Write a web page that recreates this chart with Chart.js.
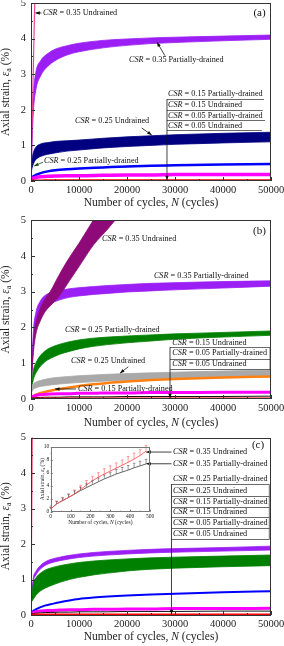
<!DOCTYPE html>
<html lang="en">
<head>
<meta charset="UTF-8" />
<title>Axial strain vs number of cycles</title>
<script src="https://cdn.jsdelivr.net/npm/chart.js"></script>
<style>
  html, body { margin: 0; padding: 0; background: #fff; }
  .wrap { position: relative; width: 284px; height: 646px; overflow: hidden; }
  canvas { position: absolute; left: 0; }
  #panelA { top: 0; }
  #panelB { top: 212px; }
  #panelC { top: 428px; }
  #inset { left: 36px; top: 443px; }
</style>
</head>
<body>
<div class="wrap">
  <canvas id="panelA" width="284" height="214"></canvas>
  <canvas id="panelB" width="284" height="218"></canvas>
  <canvas id="panelC" width="284" height="218"></canvas>
  <canvas id="inset" width="118" height="85"></canvas>
</div>
<script>
// ---- panel (a) ----
const cyclesA = [0, 200, 500, 1000, 2000, 3500, 5000, 7500, 10000, 15000, 20000, 25000, 30000, 40000, 50000];
const aVioletHi = [0, 1.6, 2.45, 3.05, 3.38, 3.58, 3.7, 3.8, 3.87, 3.95, 3.99, 4.02, 4.04, 4.07, 4.1];
const aVioletLo = [0, 1.0, 1.95, 2.55, 2.95, 3.22, 3.38, 3.54, 3.63, 3.74, 3.81, 3.86, 3.89, 3.94, 3.98];
const aNavyHi = [0.2, 0.6, 0.8, 0.95, 1.04, 1.08, 1.11, 1.13, 1.15, 1.2, 1.24, 1.27, 1.3, 1.34, 1.37];
const aNavyLo = [0.2, 0.35, 0.48, 0.6, 0.69, 0.75, 0.79, 0.84, 0.87, 0.93, 0.97, 1.0, 1.03, 1.07, 1.1];
const aBlue = [0.05, 0.1, 0.13, 0.17, 0.22, 0.27, 0.3, 0.33, 0.35, 0.38, 0.41, 0.43, 0.44, 0.46, 0.48];
const aMagenta = [0.03, 0.06, 0.08, 0.1, 0.12, 0.13, 0.14, 0.15, 0.15, 0.16, 0.17, 0.17, 0.18, 0.18, 0.18];
const aRed = [0.01, 0.02, 0.02, 0.02, 0.02, 0.03, 0.03, 0.03, 0.03, 0.03, 0.03, 0.03, 0.03, 0.03, 0.03];
const a35uCycles = [0, 200, 400, 600, 800, 1000];
const a35u = [0, 1.3, 2.6, 3.9, 5.1, 6.3];

// ---- panel (b) ----
const cyclesB = [0, 500, 1000, 2000, 3000, 4000, 6000, 8000, 10000, 13000, 16000, 20000, 25000, 30000, 40000, 50000];
const bPurpleHi = [0.3, 1.6, 2.1, 2.55, 2.8, 3.0, 3.5, 3.95, 4.35, 5.0, 5.6, 6.4, 7.4, 8.4, 10.3, 12.0];
const bPurpleLo = [0.3, 1.3, 1.8, 2.2, 2.45, 2.6, 2.9, 3.3, 3.7, 4.3, 4.75, 5.4, 6.2, 7.0, 8.6, 10.2];
const bVioletHi = [0.3, 1.9, 2.4, 2.75, 2.9, 2.96, 3.03, 3.08, 3.11, 3.14, 3.17, 3.2, 3.23, 3.25, 3.28, 3.3];
const bVioletLo = [0.3, 1.5, 2.0, 2.4, 2.58, 2.66, 2.77, 2.84, 2.88, 2.92, 2.95, 2.99, 3.02, 3.05, 3.1, 3.15];
const bGreenHi = [0.25, 0.8, 1.0, 1.22, 1.35, 1.43, 1.53, 1.6, 1.65, 1.7, 1.73, 1.76, 1.79, 1.82, 1.86, 1.9];
const bGreenLo = [0.25, 0.55, 0.72, 0.92, 1.05, 1.13, 1.25, 1.33, 1.4, 1.47, 1.52, 1.57, 1.62, 1.67, 1.73, 1.78];
const bGrayHi = [0.25, 0.42, 0.47, 0.52, 0.55, 0.58, 0.61, 0.63, 0.65, 0.67, 0.69, 0.71, 0.73, 0.75, 0.78, 0.81];
const bGrayLo = [0.15, 0.27, 0.31, 0.35, 0.37, 0.39, 0.42, 0.44, 0.46, 0.48, 0.5, 0.52, 0.55, 0.57, 0.6, 0.63];
const bOrange = [0.05, 0.08, 0.12, 0.17, 0.2, 0.23, 0.28, 0.32, 0.36, 0.41, 0.45, 0.49, 0.53, 0.56, 0.6, 0.63];
const bMagenta = [0.04, 0.08, 0.1, 0.12, 0.13, 0.14, 0.15, 0.15, 0.16, 0.16, 0.17, 0.17, 0.18, 0.18, 0.19, 0.19];
const bBlack = [0.02, 0.03, 0.04, 0.04, 0.05, 0.05, 0.05, 0.06, 0.06, 0.06, 0.06, 0.07, 0.07, 0.07, 0.07, 0.08];
const bRed = [0.01, 0.02, 0.02, 0.02, 0.02, 0.02, 0.02, 0.02, 0.02, 0.02, 0.02, 0.02, 0.02, 0.02, 0.02, 0.02];

// ---- panel (c) ----
const cyclesC = [0, 500, 1000, 2000, 3000, 4000, 6000, 8000, 10000, 13000, 16000, 20000, 25000, 30000, 40000, 50000];
const cVioletHi = [0.3, 1.05, 1.22, 1.4, 1.5, 1.56, 1.63, 1.68, 1.72, 1.76, 1.79, 1.82, 1.85, 1.87, 1.9, 1.94];
const cVioletLo = [0.3, 0.95, 1.12, 1.3, 1.4, 1.46, 1.53, 1.58, 1.62, 1.66, 1.69, 1.72, 1.75, 1.77, 1.8, 1.83];
const cGreenHi = [0.35, 0.9, 1.04, 1.18, 1.27, 1.32, 1.39, 1.44, 1.48, 1.52, 1.55, 1.58, 1.61, 1.63, 1.66, 1.69];
const cGreenLo = [0.35, 0.45, 0.55, 0.68, 0.76, 0.82, 0.92, 1.0, 1.06, 1.13, 1.18, 1.24, 1.29, 1.32, 1.36, 1.39];
const cBlue = [0.05, 0.12, 0.16, 0.22, 0.27, 0.3, 0.36, 0.41, 0.45, 0.49, 0.52, 0.55, 0.58, 0.6, 0.64, 0.67];
const cMagenta = [0.03, 0.07, 0.09, 0.11, 0.12, 0.13, 0.14, 0.15, 0.15, 0.16, 0.16, 0.17, 0.17, 0.18, 0.18, 0.19];
const cBlack = [0.02, 0.04, 0.05, 0.06, 0.07, 0.07, 0.08, 0.08, 0.09, 0.09, 0.09, 0.1, 0.1, 0.1, 0.11, 0.11];
const cRed = [0.01, 0.02, 0.02, 0.02, 0.02, 0.02, 0.02, 0.02, 0.02, 0.02, 0.02, 0.02, 0.02, 0.02, 0.02, 0.02];
const c35uCycles = [0, 100, 250, 400];
const c35u = [0, 2.0, 5.0, 8.0];

// ---- inset of (c): first 500 cycles ----
const insetCycles = [0, 30, 60, 90, 120, 150, 180, 210, 240, 270, 300, 330, 360, 390, 420, 450, 480];
const insetUndrained = [0.4, 1.2, 1.7, 2.2, 2.75, 3.4, 4.1, 4.75, 5.3, 5.8, 6.25, 6.7, 7.15, 7.6, 8.1, 8.65, 9.3];
const insetUndrainedErr = [0.3, 0.4, 0.5, 0.5, 0.6, 0.6, 0.7, 0.7, 0.7, 0.8, 0.8, 0.8, 0.8, 0.9, 0.9, 0.9, 0.9];
const insetDrained = [0.4, 1.2, 1.7, 2.2, 2.7, 3.25, 3.7, 4.15, 4.6, 5.05, 5.4, 5.8, 6.1, 6.4, 6.75, 7.05, 7.35];
const insetDrainedErr = [0.3, 0.4, 0.4, 0.5, 0.5, 0.5, 0.6, 0.6, 0.6, 0.6, 0.6, 0.7, 0.7, 0.7, 0.7, 0.7, 0.7];

const xTicksMain = [0, 10000, 20000, 30000, 40000, 50000];
const yTicksMain = [0, 1, 2, 3, 4, 5];

const FONT = '"Liberation Serif", "Times New Roman", serif';
const INK = '#222';
const NOTE_SIZE = 8.2;

const pts = (xs, ys) => xs.map((x, i) => ({ x, y: ys[i] }));

function line(xs, ys, color, w) {
  return { data: pts(xs, ys), borderColor: color, borderWidth: w, pointRadius: 0,
    fill: false, cubicInterpolationMode: 'monotone' };
}

function band(xs, lo, hi, color) {
  return [
    { data: pts(xs, hi), borderColor: color, borderWidth: 0.8, backgroundColor: color,
      pointRadius: 0, fill: '+1', cubicInterpolationMode: 'monotone' },
    { data: pts(xs, lo), borderColor: color, borderWidth: 0.8, pointRadius: 0,
      fill: false, cubicInterpolationMode: 'monotone' },
  ];
}

// text made of pieces, some italic or subscript
function rich(ctx, parts, x, y, size, align) {
  const fontOf = p => (p.i ? 'italic ' : '') + (p.sub ? size * 0.7 : size) + 'px ' + FONT;
  let total = 0;
  for (const p of parts) { ctx.font = fontOf(p); total += ctx.measureText(p.t).width; }
  let cx = align === 'center' ? x - total / 2 : x;
  ctx.textAlign = 'left';
  ctx.textBaseline = 'middle';
  for (const p of parts) {
    ctx.font = fontOf(p);
    ctx.fillText(p.t, cx, y + (p.sub ? size * 0.28 : 0));
    cx += ctx.measureText(p.t).width;
  }
}

function arrow(ctx, x1, y1, x2, y2, color) {
  ctx.strokeStyle = color;
  ctx.fillStyle = color;
  ctx.lineWidth = 0.8;
  ctx.beginPath(); ctx.moveTo(x1, y1); ctx.lineTo(x2, y2); ctx.stroke();
  const a = Math.atan2(y2 - y1, x2 - x1), L = 4.5, W = 1.7;
  ctx.beginPath();
  ctx.moveTo(x2, y2);
  ctx.lineTo(x2 - L * Math.cos(a) + W * Math.sin(a), y2 - L * Math.sin(a) - W * Math.cos(a));
  ctx.lineTo(x2 - L * Math.cos(a) - W * Math.sin(a), y2 - L * Math.sin(a) + W * Math.cos(a));
  ctx.closePath();
  ctx.fill();
}

const X_TITLE = [{ t: 'Number of cycles, ' }, { t: 'N', i: 1 }, { t: ' (cycles)' }];
const Y_TITLE = [{ t: 'Axial strain, ' }, { t: 'ε', i: 1 }, { t: 'a', sub: 1 }, { t: ' (%)' }];

// frame, inward ticks, axis titles and annotations
function makeDecor(cfg) {
  return {
    id: 'decor',
    afterDatasetsDraw(chart) {
      const { ctx, chartArea: ca } = chart;
      const X = chart.scales.x, Y = chart.scales.y;
      const px = n => X.getPixelForValue(n), py = v => Y.getPixelForValue(v);
      ctx.save();

      if (cfg.errors) {
        chart.data.datasets.forEach((ds, i) => {
          const err = cfg.errors[i];
          if (!err) return;
          ctx.strokeStyle = ds.borderColor;
          ctx.lineWidth = 0.6;
          ds.data.forEach((p, j) => {
            const x = px(p.x), y0 = py(p.y), y1 = py(p.y + err[j]);
            ctx.beginPath();
            ctx.moveTo(x, y0); ctx.lineTo(x, y1);
            ctx.moveTo(x - 1.3, y1); ctx.lineTo(x + 1.3, y1);
            ctx.stroke();
          });
        });
      }

      ctx.strokeStyle = cfg.frame;
      ctx.lineWidth = 1;
      ctx.strokeRect(Math.round(ca.left) + 0.5, Math.round(ca.top) + 0.5,
        Math.round(ca.width) - 1, Math.round(ca.height) - 1);

      // inward ticks
      ctx.beginPath();
      for (let v = X.min; v <= X.max + 1e-9; v += cfg.xMinor) {
        const major = Math.abs(v / cfg.xMajor - Math.round(v / cfg.xMajor)) < 1e-6;
        const x = Math.round(px(v)) + 0.5;
        ctx.moveTo(x, ca.bottom); ctx.lineTo(x, ca.bottom - (major ? cfg.tick : cfg.tick / 2));
      }
      for (let v = Y.min; v <= Y.max + 1e-9; v += cfg.yMinor) {
        const major = Math.abs(v / cfg.yMajor - Math.round(v / cfg.yMajor)) < 1e-6;
        const y = Math.round(py(v)) + 0.5;
        ctx.moveTo(ca.left, y); ctx.lineTo(ca.left + (major ? cfg.tick : cfg.tick / 2), y);
      }
      ctx.stroke();

      ctx.fillStyle = INK;
      rich(ctx, X_TITLE, (ca.left + ca.right) / 2, cfg.xTitleY, cfg.titleSize, 'center');
      ctx.save();
      ctx.translate(cfg.yTitleX, (ca.top + ca.bottom) / 2);
      ctx.rotate(-Math.PI / 2);
      rich(ctx, Y_TITLE, 0, 0, cfg.titleSize, 'center');
      ctx.restore();

      for (const n of cfg.notes || []) {
        if (n.csr) {
          ctx.fillStyle = '#111';
          rich(ctx, [{ t: 'CSR', i: 1 }, { t: ' = ' + n.csr }], px(n.at[0]), py(n.at[1]), NOTE_SIZE, 'left');
        } else if (n.tag) {
          ctx.fillStyle = '#111';
          rich(ctx, [{ t: n.tag }], px(n.at[0]), py(n.at[1]), 11, 'center');
        } else if (n.arrow) {
          const [a, b] = n.arrow;
          arrow(ctx, px(a[0]), py(a[1]), px(b[0]), py(b[1]), n.color || '#111');
        } else if (n.line) {
          const [a, b] = n.line;
          ctx.strokeStyle = '#444';
          ctx.lineWidth = 0.8;
          ctx.beginPath();
          ctx.moveTo(px(a[0]), Math.round(py(a[1])) + 0.5);
          ctx.lineTo(px(b[0]), Math.round(py(b[1])) + 0.5);
          ctx.stroke();
        }
      }
      ctx.restore();
    },
  };
}

function makeChart(id, datasets, geo, decor) {
  return new Chart(document.getElementById(id), {
    type: 'line',
    data: { datasets },
    options: {
      responsive: false,
      animation: false,
      events: [],
      layout: { padding: { top: geo.top, right: geo.right, left: 0, bottom: 0 } },
      plugins: { legend: { display: false }, tooltip: { enabled: false } },
      scales: {
        x: {
          type: 'linear', min: geo.xMin, max: geo.xMax,
          grid: { display: false, drawTicks: false }, border: { display: false },
          afterBuildTicks: s => { s.ticks = geo.xTicks.map(value => ({ value })); },
          ticks: { autoSkip: false, maxRotation: 0, padding: geo.xPad, color: INK,
            font: { family: FONT, size: geo.tickSize }, callback: v => String(v) },
          afterFit: s => { s.height = geo.xh; s.paddingLeft = 0; s.paddingRight = 0; },
        },
        y: {
          type: 'linear', min: geo.yMin, max: geo.yMax,
          grid: { display: false, drawTicks: false }, border: { display: false },
          afterBuildTicks: s => { s.ticks = geo.yTicks.map(value => ({ value })); },
          ticks: { padding: geo.yPad, color: INK, font: { family: FONT, size: geo.tickSize },
            callback: v => String(v) },
          afterFit: s => { s.width = geo.yw; s.paddingTop = 0; s.paddingBottom = 0; },
        },
      },
    },
    plugins: [makeDecor(decor)],
  });
}

const mainGeo = { right: 13, yw: 31, xMin: 0, xMax: 50000, yMin: 0, yMax: 5,
  xTicks: xTicksMain, yTicks: yTicksMain, xPad: 3, yPad: 5, tickSize: 10.5 };
const mainDecor = { frame: '#333', xMajor: 10000, xMinor: 5000, yMajor: 1, yMinor: 0.5,
  tick: 4, titleSize: 11.5, yTitleX: 6 };

// (a)
makeChart('panelA', [
  line(a35uCycles, a35u, '#e8449a', 1.2),
  line(cyclesA, aRed, '#ff0000', 1.5),
  line(cyclesA, aMagenta, '#ff00ff', 3.5),
  line(cyclesA, aBlue, '#0000ff', 2.5),
  ...band(cyclesA, aNavyLo, aNavyHi, '#000080'),
  ...band(cyclesA, aVioletLo, aVioletHi, '#9b1ff5'),
], { ...mainGeo, top: 3, xh: 33 }, { ...mainDecor, xTitleY: 203, notes: [
  { csr: '0.35 Undrained', at: [2500, 4.72] },
  { arrow: [[2200, 4.72], [900, 4.72]] },
  { tag: '(a)', at: [47600, 4.72] },
  { csr: '0.35 Partially-drained', at: [20400, 3.4] },
  { arrow: [[27900, 3.52], [26250, 3.9]] },
  { csr: '0.15 Partially-drained', at: [28540, 2.435] },
  { csr: '0.15 Undrained', at: [28540, 2.135] },
  { csr: '0.05 Partially-drained', at: [28540, 1.834] },
  { csr: '0.05 Undrained', at: [28540, 1.545] },
  { line: [[28330, 2.3], [48540, 2.3]] },
  { line: [[28330, 1.99], [48300, 1.99]] },
  { line: [[28330, 1.71], [48750, 1.71]] },
  { line: [[28330, 1.43], [48100, 1.43]] },
  { arrow: [[28330, 2.3], [28330, 0.02]] },
  { csr: '0.25 Undrained', at: [9170, 1.69] },
  { arrow: [[23060, 1.49], [25150, 1.29]] },
  { csr: '0.25 Partially-drained', at: [2700, 0.56] },
  { arrow: [[2500, 0.53], [650, 0.42]], color: '#0a4a0a' },
] });

// (b)
makeChart('panelB', [
  line(cyclesB, bRed, '#ff0000', 1.5),
  line(cyclesB, bBlack, '#111111', 1),
  line(cyclesB, bMagenta, '#ff00ff', 3),
  line(cyclesB, bOrange, '#ff8010', 2.5),
  ...band(cyclesB, bGrayLo, bGrayHi, '#a9a9a9'),
  ...band(cyclesB, bGreenLo, bGreenHi, '#008000'),
  ...band(cyclesB, bPurpleLo, bPurpleHi, '#8e0a78'),
  ...band(cyclesB, bVioletLo, bVioletHi, '#9b1ff5'),
], { ...mainGeo, top: 8, xh: 31 }, { ...mainDecor, xTitleY: 211, notes: [
  { tag: '(b)', at: [47600, 4.7] },
  { csr: '0.35 Undrained', at: [14800, 4.46] },
  { csr: '0.35 Partially-drained', at: [25600, 3.44] },
  { csr: '0.25 Partially-drained', at: [7080, 1.93] },
  { csr: '0.25 Undrained', at: [8330, 1.06] },
  { arrow: [[20270, 0.9], [18540, 0.72]] },
  { csr: '0.15 Partially-drained', at: [9790, 0.27] },
  { arrow: [[9380, 0.28], [5000, 0.28]] },
  { csr: '0.15 Undrained', at: [29440, 1.58] },
  { csr: '0.05 Partially-drained', at: [29440, 1.28] },
  { csr: '0.05 Undrained', at: [29440, 0.98] },
  { line: [[28960, 1.444], [49790, 1.444]] },
  { line: [[28960, 1.13], [49790, 1.13]] },
  { line: [[28960, 0.83], [49790, 0.83]] },
  { line: [[49790, 1.444], [49790, 0.83]] },
  { arrow: [[28960, 1.444], [28960, 0.02]] },
] });

// (c)
makeChart('panelC', [
  line(c35uCycles, c35u, '#f03a6a', 1.2),
  line(cyclesC, cRed, '#ff0000', 1.5),
  line(cyclesC, cBlack, '#111111', 1),
  line(cyclesC, cMagenta, '#ff00ff', 3),
  line(cyclesC, cBlue, '#0000ff', 2),
  ...band(cyclesC, cGreenLo, cGreenHi, '#008000'),
  ...band(cyclesC, cVioletLo, cVioletHi, '#9b1ff5'),
], { ...mainGeo, top: 9.5, xh: 31 }, { ...mainDecor, xTitleY: 209, notes: [
  { tag: '(c)', at: [47300, 4.79] },
  { csr: '0.35 Undrained', at: [29580, 4.59] },
  { csr: '0.35 Partially-drained', at: [29580, 4.26] },
  { csr: '0.25 Partially-drained', at: [29580, 3.83] },
  { csr: '0.25 Undrained', at: [29580, 3.5] },
  { csr: '0.15 Partially-drained', at: [29580, 3.2] },
  { csr: '0.15 Undrained', at: [29580, 2.91] },
  { csr: '0.05 Partially-drained', at: [29580, 2.59] },
  { csr: '0.05 Undrained', at: [29580, 2.28] },
  { arrow: [[29270, 4.59], [24000, 4.59]] },
  { arrow: [[29270, 4.26], [24000, 4.26]] },
  { line: [[29270, 3.69], [49650, 3.69]] },
  { line: [[29270, 3.35], [49650, 3.35]] },
  { line: [[29270, 3.05], [49650, 3.05]] },
  { line: [[29270, 2.75], [49650, 2.75]] },
  { line: [[29270, 2.44], [49650, 2.44]] },
  { line: [[29270, 2.14], [49650, 2.14]] },
  { line: [[49650, 3.69], [49650, 2.14]] },
  { arrow: [[29270, 3.69], [29270, 0.02]] },
] });

// inset
makeChart('inset', [
  line(insetCycles, insetUndrained, '#ff5a5a', 0.9),
  line(insetCycles, insetDrained, '#555555', 0.9),
], { top: 3.7, right: 4, yw: 14.7, xh: 16.3, xMin: 0, xMax: 500, yMin: 0, yMax: 10,
  xTicks: [0, 100, 200, 300, 400, 500], yTicks: [0, 2, 4, 6, 8, 10], xPad: 1.5, yPad: 1.5, tickSize: 5.5 },
{ frame: '#777', xMajor: 100, xMinor: 50, yMajor: 2, yMinor: 1, tick: 2, titleSize: 5.5,
  yTitleX: 6.5, xTitleY: 79.7, errors: [insetUndrainedErr, insetDrainedErr] });
</script>
</body>
</html>
